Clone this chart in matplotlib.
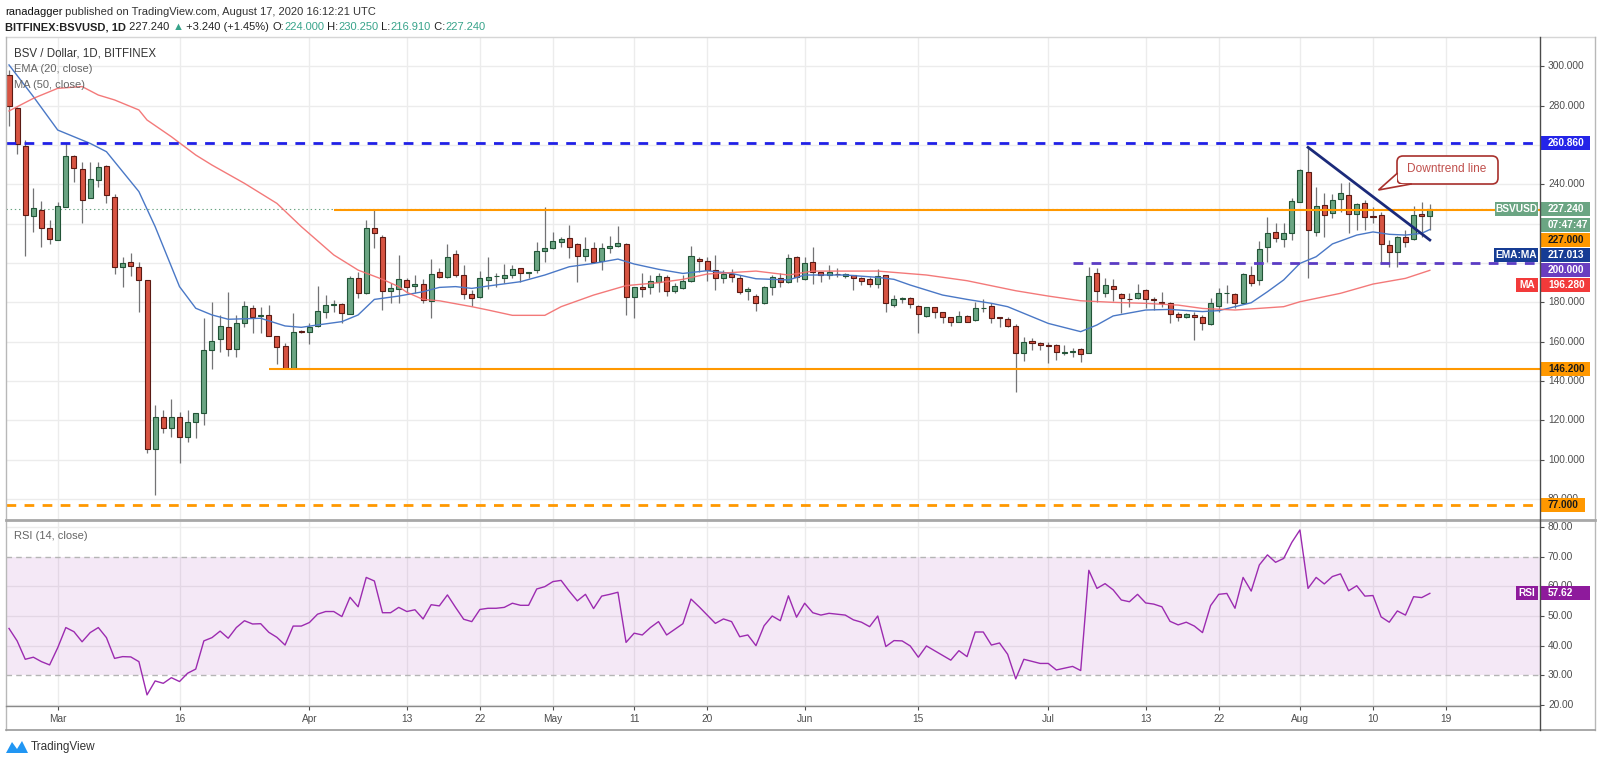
import matplotlib
matplotlib.use("Agg")
import matplotlib.pyplot as plt
from matplotlib.patches import Rectangle, Polygon, FancyBboxPatch
import numpy as np
import pandas as pd

plt.rcParams['font.family'] = ['Liberation Sans', 'DejaVu Sans']
plt.rcParams['lines.scale_dashes'] = False

# ---- data (daily candles from 2020-02-24) ----
start = pd.Timestamp('2020-02-24')

opens = [
    295.6, 278.6, 259.5, 224.1, 226.9, 217.6, 211.7, 228.6, 254.4, 248.0,
    233.0, 242.2, 249.5, 233.7, 198.1, 200.3, 198.1, 191.4, 105.3, 121.5,
    116.0, 121.8, 111.4, 119.3, 123.9, 155.8, 161.2, 167.3, 156.1, 169.7,
    177.3, 173.2, 173.4, 162.9, 157.8, 146.4, 165.4, 165.1, 168.1, 175.3,
    178.8, 179.0, 174.1, 192.2, 184.6, 217.6, 213.4, 185.9, 186.6, 191.4,
    188.3, 189.3, 180.8, 195.3, 192.7, 204.4, 193.9, 184.1, 182.5, 191.4,
    193.2, 192.2, 193.9, 197.3, 195.1, 196.4, 206.3, 207.5, 210.5, 212.5,
    209.5, 203.7, 207.5, 201.2, 207.5, 208.8, 209.5, 182.9, 187.6, 187.6,
    190.2, 192.7, 185.9, 187.1, 190.8, 201.9, 201.0, 196.4, 192.2, 194.4,
    192.2, 185.9, 183.4, 179.5, 188.0, 192.5, 190.5, 202.9, 191.7, 200.3,
    195.3, 193.9, 194.4, 193.4, 193.7, 192.2, 192.0, 189.3, 193.9, 178.5,
    181.7, 182.0, 178.3, 173.2, 177.5, 174.9, 172.5, 170.2, 173.1, 171.0,
    176.9, 178.1, 172.4, 171.7, 168.1, 154.1, 160.3, 159.5, 158.1, 158.3,
    154.1, 154.9, 156.3, 154.1, 194.7, 184.9, 188.5, 184.2, 181.8, 182.0,
    186.3, 181.3, 180.3, 179.8, 174.1, 172.6, 173.6, 172.4, 169.0, 178.3,
    184.6, 184.2, 179.5, 193.9, 191.4, 208.0, 215.6, 212.2, 215.4, 231.2,
    246.1, 215.9, 229.5, 225.3, 232.4, 234.6, 224.9, 230.3, 223.7, 224.4,
    209.2, 205.8, 213.4, 212.0, 224.8, 224.0,
]
highs = [
    298.0, 279.5, 262.5, 238.3, 231.7, 221.9, 231.2, 260.8, 255.0, 251.5,
    251.5, 251.5, 249.8, 235.0, 203.2, 205.0, 200.7, 191.5, 127.8, 125.3,
    130.7, 124.4, 125.3, 123.6, 171.9, 180.3, 173.6, 185.4, 173.6, 180.7,
    178.6, 177.8, 178.6, 162.9, 159.2, 174.4, 165.9, 169.3, 188.5, 183.7,
    181.2, 179.5, 193.4, 195.6, 221.9, 227.0, 214.2, 189.7, 204.1, 192.2,
    193.9, 191.7, 201.9, 197.3, 209.7, 206.6, 199.0, 186.3, 196.1, 203.2,
    195.1, 199.3, 199.0, 197.6, 195.6, 210.8, 228.3, 215.6, 213.4, 219.3,
    210.0, 213.4, 210.8, 210.0, 213.9, 218.8, 210.0, 188.0, 194.7, 193.9,
    194.7, 193.9, 189.7, 193.9, 208.6, 203.2, 202.9, 204.1, 196.4, 196.8,
    193.9, 188.0, 184.2, 188.3, 193.9, 194.7, 204.6, 203.6, 203.2, 208.0,
    195.6, 199.0, 197.3, 194.7, 194.0, 192.7, 192.7, 196.8, 193.9, 183.7,
    182.9, 182.9, 178.6, 177.8, 177.8, 175.3, 172.7, 175.8, 173.4, 180.3,
    181.5, 179.5, 172.8, 172.4, 169.0, 162.5, 161.7, 160.0, 160.0, 158.8,
    158.3, 156.6, 156.6, 198.1, 197.3, 192.2, 191.7, 184.6, 184.6, 189.2,
    186.6, 182.9, 185.1, 180.3, 175.3, 174.7, 175.3, 173.6, 182.4, 187.1,
    188.8, 184.6, 195.0, 198.5, 211.2, 223.6, 220.2, 220.2, 232.9, 247.6,
    258.8, 238.8, 235.4, 235.1, 240.8, 241.4, 230.7, 232.0, 228.6, 226.1,
    211.7, 213.7, 216.8, 229.2, 230.8, 230.25,
]
lows = [
    269.8, 255.3, 203.7, 215.6, 208.3, 209.5, 211.7, 228.6, 241.4, 220.2,
    233.0, 238.8, 230.7, 194.4, 188.0, 193.6, 175.3, 103.2, 82.0, 113.7,
    111.7, 98.5, 109.2, 110.8, 117.6, 145.9, 154.9, 152.7, 152.4, 167.6,
    164.6, 164.6, 162.9, 148.6, 145.9, 145.9, 164.2, 158.6, 167.3, 171.9,
    175.3, 169.3, 174.1, 182.0, 184.2, 207.5, 176.1, 179.5, 179.5, 184.6,
    184.9, 179.5, 171.9, 192.2, 192.2, 192.7, 181.5, 178.1, 182.0, 186.6,
    187.6, 190.0, 192.2, 190.5, 192.2, 194.7, 200.7, 207.0, 208.3, 202.4,
    190.5, 201.2, 200.2, 196.4, 204.9, 208.0, 173.6, 171.9, 182.5, 184.2,
    185.4, 183.2, 184.6, 186.6, 190.5, 195.6, 191.0, 186.3, 189.7, 190.5,
    184.2, 181.2, 175.8, 179.2, 183.7, 188.0, 190.0, 190.5, 191.4, 189.3,
    190.5, 191.7, 193.0, 192.2, 186.3, 188.8, 188.0, 187.1, 175.3, 177.8,
    179.5, 177.0, 164.6, 172.4, 171.9, 169.3, 168.0, 169.8, 170.0, 170.7,
    175.3, 169.7, 167.6, 167.6, 134.6, 150.3, 155.8, 155.8, 149.0, 150.7,
    153.2, 152.4, 149.8, 154.1, 180.3, 182.9, 180.8, 174.8, 177.8, 181.5,
    176.9, 176.1, 177.8, 169.7, 170.6, 172.1, 160.8, 166.0, 168.5, 175.3,
    179.5, 177.0, 179.2, 188.3, 188.8, 200.7, 210.8, 208.3, 211.7, 231.2,
    192.2, 213.7, 213.4, 222.7, 226.1, 215.4, 216.8, 216.8, 220.2, 199.5,
    197.8, 198.1, 208.3, 211.5, 213.4, 216.91,
]
closes = [
    280.0, 260.5, 224.4, 227.8, 217.6, 212.0, 229.2, 254.4, 248.1, 232.0,
    242.5, 249.0, 234.6, 198.1, 199.8, 198.6, 191.4, 105.3, 121.5, 116.3,
    121.8, 111.7, 119.3, 123.6, 155.8, 160.3, 168.1, 156.1, 169.3, 178.1,
    172.7, 173.5, 162.9, 157.1, 146.4, 165.1, 164.9, 167.6, 175.8, 178.5,
    179.2, 174.4, 192.2, 184.6, 217.6, 215.1, 185.9, 187.3, 191.7, 188.0,
    189.3, 181.2, 194.2, 193.0, 203.2, 193.9, 184.1, 182.0, 192.2, 193.1,
    193.5, 193.9, 196.8, 195.1, 195.3, 206.3, 207.5, 211.2, 212.0, 208.0,
    203.6, 207.0, 200.7, 207.5, 208.6, 210.0, 182.9, 188.0, 186.6, 191.0,
    193.4, 185.9, 188.3, 190.8, 203.7, 201.0, 196.4, 192.2, 194.4, 192.7,
    185.4, 186.9, 179.8, 188.0, 192.7, 190.5, 202.4, 192.7, 200.2, 195.3,
    193.9, 195.3, 194.3, 194.2, 192.5, 191.0, 189.3, 193.6, 179.5, 181.5,
    181.8, 179.2, 173.9, 177.8, 175.3, 172.4, 170.2, 173.1, 170.2, 176.9,
    177.0, 172.2, 172.2, 168.1, 154.4, 160.0, 159.2, 158.3, 158.0, 154.6,
    154.9, 154.9, 153.7, 193.6, 185.9, 188.8, 186.6, 182.0, 181.5, 184.6,
    181.5, 181.1, 179.5, 174.1, 172.7, 174.0, 172.4, 169.3, 179.5, 184.6,
    184.7, 179.5, 194.4, 189.7, 207.1, 215.4, 212.5, 215.4, 231.5, 247.3,
    216.8, 229.0, 224.4, 232.0, 235.4, 224.9, 230.0, 223.2, 223.4, 209.5,
    205.4, 213.4, 210.8, 224.4, 224.0, 227.24,
]

# EMA(20) and MA(50) read at sample days (day index from start)
ema_day = [0, 3, 6, 8, 10, 12, 16, 18, 21, 23, 25, 27, 31, 34, 36, 38, 41, 43,
           45, 48, 51, 53, 55, 57, 59, 63, 66, 69, 72, 75, 77, 80, 83, 86, 89,
           92, 96, 98, 103, 107, 109, 111, 115, 118, 121, 123, 125, 128, 132,
           134, 136, 140, 143, 147, 149, 151, 153, 155, 157, 159, 161, 163,
           166, 168, 170, 172, 174, 175]
ema_val = [300.7, 284.6, 267.6, 264.2, 260.8, 256.6, 236.3, 218.5, 188.0,
           177.0, 173.6, 171.4, 171.9, 168.0, 167.3, 168.5, 170.2, 173.6,
           181.5, 183.2, 185.4, 187.6, 188.0, 187.1, 188.3, 190.5, 193.9,
           198.1, 199.8, 202.0, 199.5, 196.8, 194.7, 196.1, 194.7, 192.0,
           191.4, 193.9, 193.9, 192.7, 191.7, 188.8, 183.7, 181.5, 179.5,
           177.8, 174.4, 169.3, 165.1, 168.5, 173.1, 176.1, 176.4, 175.3,
           175.8, 177.8, 179.8, 185.4, 191.4, 199.8, 203.2, 209.7, 214.2,
           215.8, 214.6, 214.2, 215.1, 217.013]
ma_day = [0, 3, 6, 9, 11, 13, 16, 17, 20, 23, 25, 29, 33, 36, 40, 43, 46, 48,
          49, 51, 53, 57, 59, 62, 66, 68, 72, 76, 80, 83, 86, 92, 96, 99, 107,
          113, 118, 124, 128, 132, 136, 140, 144, 147, 151, 157, 159, 164,
          168, 172, 175]
ma_val = [277.3, 283.7, 288.8, 289.7, 285.4, 282.9, 277.8, 272.7, 264.2,
          254.9, 249.8, 240.5, 230.3, 218.5, 204.1, 196.4, 191.7, 188.0,
          185.1, 181.5, 180.8, 177.8, 176.1, 173.4, 173.4, 177.8, 183.7,
          188.5, 190.0, 191.7, 194.4, 195.9, 193.9, 195.9, 195.9, 193.9,
          191.0, 185.9, 183.2, 180.8, 180.0, 179.5, 178.6, 176.9, 176.1,
          177.8, 180.3, 184.6, 189.3, 192.2, 196.28]

rsi = [
    45.8, 41.6, 35.4, 36.1, 34.6, 33.5, 39.3, 46.1, 44.7, 41.3,
    44.4, 46.1, 42.7, 35.7, 36.3, 36.2, 34.6, 23.4, 28.1, 27.3,
    29.2, 27.9, 30.7, 32.1, 41.6, 42.7, 44.9, 42.5, 46.1, 48.4,
    47.3, 47.4, 44.5, 42.8, 40.2, 46.6, 46.6, 47.8, 50.6, 51.5,
    51.5, 49.8, 56.3, 53.1, 63.0, 61.8, 51.1, 51.1, 52.9, 51.5,
    52.1, 49.0, 53.8, 53.4, 57.1, 52.9, 48.9, 48.1, 52.2, 52.6,
    52.6, 52.9, 54.3, 53.6, 53.6, 59.1, 59.9, 61.6, 62.0, 58.4,
    55.1, 57.3, 52.5, 56.7, 57.3, 58.0, 41.1, 44.2, 43.6, 46.1,
    48.1, 43.6, 45.5, 47.4, 55.7, 53.1, 50.3, 47.5, 49.0, 48.1,
    43.0, 43.6, 40.0, 46.7, 50.0, 48.4, 56.8, 49.6, 54.3, 51.1,
    50.3, 50.9, 50.6, 50.3, 48.7, 47.9, 46.4, 50.0, 39.7, 41.7,
    41.6, 39.9, 36.1, 39.9, 38.3, 36.7, 35.1, 38.3, 36.3, 44.6,
    44.6, 40.2, 40.9, 37.1, 28.8, 35.4, 34.7, 34.0, 34.0, 31.8,
    32.4, 33.0, 31.6, 65.4, 59.3, 60.9, 58.8, 55.4, 54.8, 57.3,
    54.4, 54.0, 53.1, 48.2, 47.0, 47.9, 46.6, 44.4, 53.5, 57.3,
    57.6, 52.6, 63.0, 58.4, 67.2, 70.6, 68.1, 69.4, 74.8, 79.0,
    59.3, 63.0, 60.8, 63.3, 64.2, 58.5, 60.2, 56.7, 56.9, 49.7,
    47.9, 51.7, 50.3, 56.5, 56.2, 57.62,
]

# drawn levels and the downtrend line (price, first day)
resist_blue = 260.86
level_227 = (227.0, 40)
level_200 = (200.0, 131)
level_146 = (146.2, 32)
support_77 = 77.0
last_price = 227.24
trend_day = [160.0, 175.0]
trend_val = [258.8, 211.7]

tick_dates = ['2020-03-01', '2020-03-16', '2020-04-01', '2020-04-13', '2020-04-22',
              '2020-05-01', '2020-05-11', '2020-05-20', '2020-06-01', '2020-06-15',
              '2020-07-01', '2020-07-13', '2020-07-22', '2020-08-01', '2020-08-10',
              '2020-08-19']
tick_labels = ['Mar', '16', 'Apr', '13', '22', 'May', '11', '20', 'Jun', '15',
               'Jul', '13', '22', 'Aug', '10', '19']
price_ticks = [300, 280, 240, 180, 160, 140, 120, 100, 80]
rsi_ticks = [80, 70, 60, 50, 40, 30, 20]

# ---- figure layout (pixels) ----
W, H = 1600, 763
fig = plt.figure(figsize=(16, 7.63), dpi=100)
fig.patch.set_facecolor('white')


def fax(x0, y0, x1, y1):
    return fig.add_axes([x0 / W, 1 - y1 / H, (x1 - x0) / W, (y1 - y0) / H])


ax = fax(6, 37, 1540, 520)
rs = fax(6, 520, 1540, 706)
ps = fax(1540, 37, 1595, 520)
prs = fax(1540, 520, 1595, 706)

XL = (-0.37, 188.57)
YL = (69.35, 314.9)
RL = (19.65, 82.36)
ppu = 483 / (YL[1] - YL[0])
rppu = 186 / (RL[1] - RL[0])

for a in (ax, rs, ps, prs):
    for s in a.spines.values():
        s.set_visible(False)
    a.set_xticks([])
    a.set_yticks([])
ax.set_xlim(*XL)
rs.set_xlim(*XL)
ax.set_ylim(*YL)
rs.set_ylim(*RL)
ps.set_ylim(*YL)
prs.set_ylim(*RL)
ps.set_xlim(1540, 1595)
prs.set_xlim(1540, 1595)

tick_pos = [(pd.Timestamp(d) - start).days for d in tick_dates]
grid_c = '#ececec'
for t in tick_pos:
    ax.axvline(t, color=grid_c, lw=1, zorder=0)
    rs.axvline(t, color=grid_c, lw=1, zorder=0)
for p in range(80, 301, 20):
    ax.axhline(p, color=grid_c, lw=1, zorder=0)

# ---- candles ----
idx = np.arange(len(closes))
o = np.array(opens)
c = np.array(closes)
up = c >= o
face = np.where(up, '#6ba583', '#d75442')
edge = np.where(up, '#225437', '#5b1a13')
ax.vlines(idx, lows, highs, color='#737375', lw=0.9, zorder=2)
ax.bar(idx, np.maximum(np.abs(c - o), 0.35), bottom=np.minimum(o, c), width=0.62,
       color=face, edgecolor=edge, linewidth=0.8, zorder=3)

ax.plot(ema_day, ema_val, color='#4a78c6', lw=1.0, zorder=4)
ax.plot(ma_day, ma_val, color='#f26b6b', lw=1.0, alpha=0.9, zorder=4)

# ---- levels ----
ax.axhline(last_price, color='#6ba583', lw=0.8, ls=(0, (1, 2)), zorder=1)
ax.axhline(resist_blue, color='#2020e6', lw=2, dashes=(7, 6), zorder=5)
ax.axhline(support_77, color='#ff9800', lw=2, dashes=(7, 6), zorder=5)
ax.hlines(level_227[0], level_227[1], XL[1], color='#ff9800', lw=1.5, zorder=5)
ax.hlines(level_146[0], level_146[1], XL[1], color='#ff9800', lw=1.5, zorder=5)
ax.hlines(level_200[0], level_200[1], XL[1], color='#5b3cc4', lw=2,
          linestyles=[(0, (7, 6))], zorder=5)
ax.plot(trend_day, trend_val, color='#1b2a7a', lw=2, zorder=6)

# ---- RSI ----
for p in (20, 40, 50, 60, 80):
    rs.axhline(p, color=grid_c, lw=1, zorder=0)
rs.axhspan(30, 70, color='#9c27b0', alpha=0.1, lw=0, zorder=1)
rs.axhline(70, color='#b5b5b5', lw=1, dashes=(4, 3), zorder=2)
rs.axhline(30, color='#b5b5b5', lw=1, dashes=(4, 3), zorder=2)
rs.plot(idx, rsi, color='#9c2bb0', lw=1.0, zorder=3)

# ---- price scales ----
lab_c = '#4d4d4d'
for p in price_ticks:
    ps.hlines(p, 1540, 1544, color=lab_c, lw=0.8)
    ps.text(1548, p, f'{p:.3f}', va='center', ha='left', fontsize=7.3, color=lab_c)
for p in rsi_ticks:
    prs.hlines(p, 1540, 1544, color=lab_c, lw=0.8)
    prs.text(1548, p, f'{p:.2f}', va='center', ha='left', fontsize=7.3, color=lab_c)


def tag(a, y, text, fc, pp, tc='white', x0=1540, x1=1590, h=14, center=False):
    clip = x0 >= 1540
    a.add_patch(Rectangle((x0, y - h / 2 / pp), x1 - x0, h / pp, fc=fc, ec='none',
                          zorder=5, clip_on=clip))
    if center:
        a.text((x0 + x1) / 2, y, text, ha='center', va='center', fontsize=7.3,
               color=tc, fontweight='bold', zorder=6, clip_on=clip)
    else:
        a.text(1548, y, text, ha='left', va='center', fontsize=7.3,
               color=tc, fontweight='bold', zorder=6, clip_on=clip)


green = '#6ba583'
orange = '#ff9800'
step = 15.2 / ppu
tag(ps, resist_blue, '260.860', '#2424e8', ppu)
tag(ps, last_price, 'BSVUSD', green, ppu, x0=1495, x1=1538, center=True)
tag(ps, last_price, '227.240', green, ppu)
tag(ps, last_price - step, '07:47:47', green, ppu)
tag(ps, last_price - 2 * step, '227.000', orange, ppu, tc='#1a1a1a')
tag(ps, last_price - 3 * step, 'EMA:MA', '#163c94', ppu, x0=1494, x1=1538, center=True)
tag(ps, last_price - 3 * step, f'{ema_val[-1]:.3f}', '#163c94', ppu)
tag(ps, last_price - 4 * step, '200.000', '#6a3ec0', ppu)
tag(ps, last_price - 5 * step, 'MA', '#f23a3a', ppu, x0=1516, x1=1538, center=True)
tag(ps, last_price - 5 * step, f'{ma_val[-1]:.3f}', '#f23a3a', ppu)
tag(ps, level_146[0], '146.200', orange, ppu, tc='#1a1a1a')
tag(ps, support_77, '77.000', orange, ppu, tc='#1a1a1a', x1=1585)
tag(prs, rsi[-1], 'RSI', '#8e1a9c', rppu, x0=1516, x1=1538, center=True)
tag(prs, rsi[-1], f'{rsi[-1]:.2f}', '#8e1a9c', rppu)

# ---- time axis ----
xt = rs.get_xaxis_transform()
for t, lab in zip(tick_pos, tick_labels):
    rs.vlines(t, -4 / 186, 0, transform=xt, color=lab_c, lw=0.8, clip_on=False)
    rs.text(t, -13 / 186, lab, transform=xt, ha='center', va='center',
            fontsize=7.3, color=lab_c, clip_on=False)

# ---- overlay: frames, header, legends, callout, logo ----
ov = fax(0, 0, 1600, 763)
ov.set_xlim(0, W)
ov.set_ylim(H, 0)
ov.axis('off')
ov.patch.set_alpha(0)
ov.plot([6, 1595], [37, 37], color='#d6d6d6', lw=1)
ov.plot([6, 6], [37, 730], color='#b8b8b8', lw=1)
ov.plot([1595, 1595], [37, 730], color='#b8b8b8', lw=1)
ov.plot([6, 1595], [730, 730], color='#9a9a9a', lw=1.2)
ov.plot([6, 1595], [520, 520], color='#a8a8a8', lw=2)
ov.plot([6, 1540], [706, 706], color='#8a8a8a', lw=1)
ov.plot([1540, 1540], [37, 730], color='#4a4a4a', lw=1)

# callout box with tail
red_c = '#a8302c'
ov.add_patch(FancyBboxPatch((1397, 156), 101, 28,
                            boxstyle='round,pad=0,rounding_size=6',
                            fc='white', ec=red_c, lw=1.2, zorder=8))
ov.add_patch(Polygon([(1397, 173.5), (1378.5, 190), (1411, 184), (1397, 184)],
                     closed=True, fc='white', ec='none', zorder=9))
ov.plot([1397, 1378.5, 1411], [173.5, 190, 184], color=red_c, lw=1.2, zorder=10,
        solid_joinstyle='miter')
ov.text(1447, 169.5, 'Downtrend line', ha='center', va='center', fontsize=8.6,
        color='#c0504d', zorder=11)

dark = '#222222'
teal = '#37a38a'
t1 = ov.text(5, 12, 'ranadagger', fontsize=8, color='#111111', va='center')
ov.annotate(' published on TradingView.com, August 17, 2020 16:12:21 UTC',
            xy=(1, 0), xycoords=t1, va='bottom', fontsize=8, color='#333333')

pieces = [('BITFINEX:BSVUSD, 1D', dark, 'bold'), (' 227.240 ', dark, 'normal'),
          ('\u25b2', teal, 'normal'), (' +3.240 (+1.45%) ', dark, 'normal'),
          ('O:', dark, 'normal'), ('224.000', teal, 'normal'),
          (' H:', dark, 'normal'), ('230.250', teal, 'normal'),
          (' L:', dark, 'normal'), ('216.910', teal, 'normal'),
          (' C:', dark, 'normal'), ('227.240', teal, 'normal')]
prev = None
for s, col, wt in pieces:
    if prev is None:
        prev = ov.text(5, 27, s, fontsize=8, color=col, fontweight=wt, va='center')
    else:
        prev = ov.annotate(s, xy=(1, 0), xycoords=prev, va='bottom', fontsize=8,
                           color=col, fontweight=wt)

ov.text(14, 54, 'BSV / Dollar, 1D, BITFINEX', fontsize=8.3, color='#333333', va='center')
ov.text(14, 69, 'EMA (20, close)', fontsize=8, color='#666666', va='center')
ov.text(14, 84.5, 'MA (50, close)', fontsize=8, color='#666666', va='center')
ov.text(14, 536, 'RSI (14, close)', fontsize=8, color='#666666', va='center')

ov.add_patch(Polygon([(6, 753), (12, 742), (17, 749), (22, 741), (28, 753)],
                     closed=True, fc='#2196f3', ec='none'))
ov.text(31, 747, 'TradingView', fontsize=8.5, color='#333333', va='center')

fig.savefig('out.png', dpi=100)
